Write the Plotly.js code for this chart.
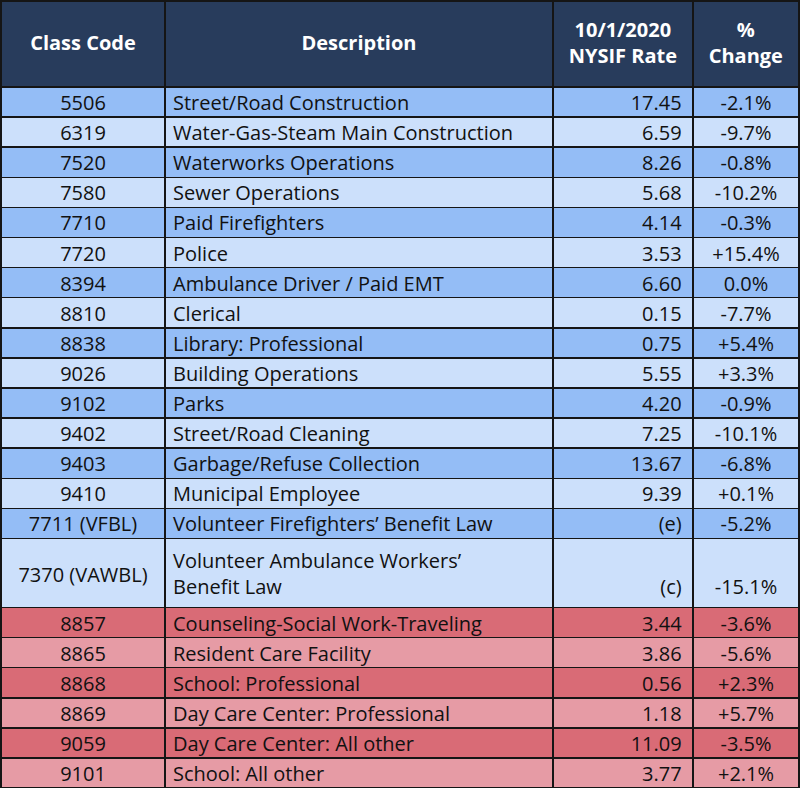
<!DOCTYPE html>
<html>
<head>
<meta charset="utf-8">
<script src="https://cdn.plot.ly/plotly-3.0.1.min.js"></script>
<style>html,body{margin:0;padding:0;background:#fff;}#chart{width:800px;height:788px;}</style>
</head>
<body>
<div id="chart"></div>
<script>
// ---- data ----
const headerLines = [["Class Code"], ["Description"], ["10/1/2020", "NYSIF Rate"], ["%", "Change"]];
const classCodes = ["5506","6319","7520","7580","7710","7720","8394","8810","8838","9026","9102","9402","9403","9410","7711 (VFBL)","7370 (VAWBL)","8857","8865","8868","8869","9059","9101"];
const descriptions = ["Street/Road Construction","Water-Gas-Steam Main Construction","Waterworks Operations","Sewer Operations","Paid Firefighters","Police","Ambulance Driver / Paid EMT","Clerical","Library: Professional","Building Operations","Parks","Street/Road Cleaning","Garbage/Refuse Collection","Municipal Employee","Volunteer Firefighters’ Benefit Law","Volunteer Ambulance Workers’ Benefit Law","Counseling-Social Work-Traveling","Resident Care Facility","School: Professional","Day Care Center: Professional","Day Care Center: All other","School: All other"];
const rates = ["17.45","6.59","8.26","5.68","4.14","3.53","6.60","0.15","0.75","5.55","4.20","7.25","13.67","9.39","(e)","(c)","3.44","3.86","0.56","1.18","11.09","3.77"];
const changes = ["-2.1%","-9.7%","-0.8%","-10.2%","-0.3%","+15.4%","0.0%","-7.7%","+5.4%","+3.3%","-0.9%","-10.1%","-6.8%","+0.1%","-5.2%","-15.1%","-3.6%","-5.6%","+2.3%","+5.7%","-3.5%","+2.1%"];
const groups = ["blue","blue","blue","blue","blue","blue","blue","blue","blue","blue","blue","blue","blue","blue","blue","blue","red","red","red","red","red","red"];

// ---- styling / text layout helpers ----
const FAMILY = "Open Sans";
const FONT = "'Open Sans', 'Noto Sans', sans-serif";
const HEAD_PX = 20, BODY_PX = 20;
const palette = {blue: ["#94bdf6", "#cce0fb"], red: ["#d96b76", "#e69ba5"]};
const rowFill = groups.map((g, i) => palette[g][i % 2]);

const ctx = document.createElement("canvas").getContext("2d");
const tw = (s, px, bold) => { ctx.font = `${bold ? "bold " : ""}${px}px "${FAMILY}"`; return ctx.measureText(s).width; };

// invisible spacer glyph used to push text down inside a cell (vertical centring).
// every text holding markup also holds a <br>, which stops Plotly's word-wrapper from splitting the tag.
const GHOST = ".";
const ghost = px => `<span style="font-size:${px}px;color:rgba(0,0,0,0)">${GHOST}</span>`;
// invisible horizontal padding of a given width (keeps the lines of a multi-line header centred)
const PAD = "W";
const pad = (w, bold) => {
  if (w < 0.5) return "";
  const px = w / (tw(PAD, 100, bold) / 100);
  return `<span style="font-size:${px.toFixed(2)}px;color:rgba(0,0,0,0)">${PAD}</span>`;
};
const keep = t => t.replace(/ /g, "\u00a0");

const HEAD_GHOST_1 = 38.4, HEAD_GHOST_2 = 26.3;
const headerText = headerLines.map(lines => {
  if (lines.length === 1) {
    return [ghost(HEAD_GHOST_1) + keep(lines[0]) + ghost(HEAD_GHOST_1) + "<br>"];
  }
  const g = tw(GHOST, HEAD_GHOST_2, true);
  const w = lines.map((l, i) => tw(l, HEAD_PX, true) + (i === 0 ? 2 * g : 0));
  const m = Math.max(...w);
  const out = lines.map((l, i) => {
    const core = i === 0 ? ghost(HEAD_GHOST_2) + keep(l) + ghost(HEAD_GHOST_2) : keep(l);
    const p = pad((m - w[i]) / 2, true);
    return p + core + p;
  });
  return [out.join("<br>")];
});

// the one long description wraps onto two lines, as in the original sheet
const WRAP_AFTER = "Workers’";
const descText = descriptions.map(d => d.includes(WRAP_AFTER) ? d.replace(WRAP_AFTER + " ", WRAP_AFTER + "<br>") : d);
const tall = descText.map(d => d.includes("<br>"));
const blankLine = `<span style="color:rgba(0,0,0,0)">.</span><br>`;
const codeText = classCodes.map((c, i) => tall[i] ? ghost(33) + keep(c) + ghost(33) + "<br>" : c);
const rateText = rates.map((r, i) => tall[i] ? blankLine + r : r);
const changeText = changes.map((c, i) => tall[i] ? blankLine + c : c);

const trace = {
  type: "table",
  domain: {x: [0, 1], y: [0, 1]},
  columnwidth: [164, 388, 140, 106],
  header: {
    values: headerText,
    align: "center",
    height: 86,
    fill: {color: "#283c5c"},
    line: {color: "#151515", width: 1.5},
    font: {family: FONT, size: HEAD_PX, color: "#ffffff", weight: "bold"}
  },
  cells: {
    values: [codeText, descText, rateText, changeText],
    suffix: ["", "", "\u2009", ""],
    align: ["center", "left", "right", "center"],
    height: 30.1,
    fill: {color: [rowFill, rowFill, rowFill, rowFill]},
    line: {color: "#151515", width: 1.5},
    font: {family: FONT, size: BODY_PX, color: "#111111"}
  }
};

const layout = {
  width: 800,
  height: 788,
  margin: {l: 1, r: 1, t: 1, b: 0},
  paper_bgcolor: "#ffffff"
};

Plotly.newPlot("chart", [trace], layout, {displayModeBar: false, staticPlot: true});
</script>
</body>
</html>
